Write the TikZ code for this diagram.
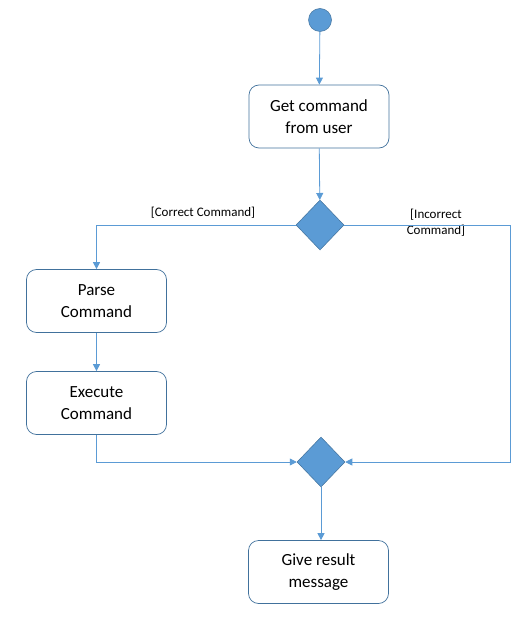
\documentclass[tikz,border=0pt]{standalone}
\usepackage{fontspec}
\setmainfont{Carlito}
\usetikzlibrary{shapes.geometric,arrows.meta}
\definecolor{fillblue}{HTML}{5B9BD5}
\definecolor{lineblue}{HTML}{5B9BD5}
\definecolor{edgeblue}{HTML}{41719C}
\begin{document}
\begin{tikzpicture}[x=1pt,y=-1pt,
  act/.style={draw=edgeblue,rounded corners=10pt,minimum width=140pt,minimum height=63pt,align=center,font=\fontsize{17}{22}\selectfont,line width=0.7pt},
  dec/.style={diamond,fill=fillblue,draw=edgeblue,line width=0.5pt,minimum width=48pt,minimum height=50pt,inner sep=0pt,aspect=0.96},
  flow/.style={draw=lineblue,line width=0.8pt,-{Triangle[length=7pt,width=7pt]}},
  lbl/.style={font=\fontsize{13}{16}\selectfont,align=center}]
\useasboundingbox (0,0) rectangle (524,628);
\node[circle,fill=fillblue,draw=edgeblue,line width=0.5pt,minimum size=23pt,inner sep=0pt] (start) at (320,20) {};
\node[act] (get) at (319,116.5) {Get command\\from user};
\node[dec] (d1) at (320,225) {};
\node[act] (parse) at (96.5,301) {Parse\\Command};
\node[act] (exec) at (96.5,403) {Execute\\Command};
\node[dec] (d2) at (321,462) {};
\node[act] (give) at (318.5,572) {Give result\\message};
\coordinate (rc) at (510,225);
\coordinate (lc) at (96.5,225);
\node[lbl,anchor=south] (lcor) at (203,222) {[Correct Command]};
\node[lbl,anchor=north] (linc) at (436,206) {[Incorrect\\Command]};
\draw[flow] (start) -- (get);
\draw[flow] (get) -- (d1);
\draw[flow] (d1.west) -- (lc) -- (parse.north);
\draw[flow] (parse) -- (exec);
\draw[flow] (exec.south) |- (d2.west);
\draw[flow] (d1.east) -- (rc) |- (d2.east);
\draw[flow] (d2.south) -- (d2.south |- give.north);
\end{tikzpicture}
\end{document}
